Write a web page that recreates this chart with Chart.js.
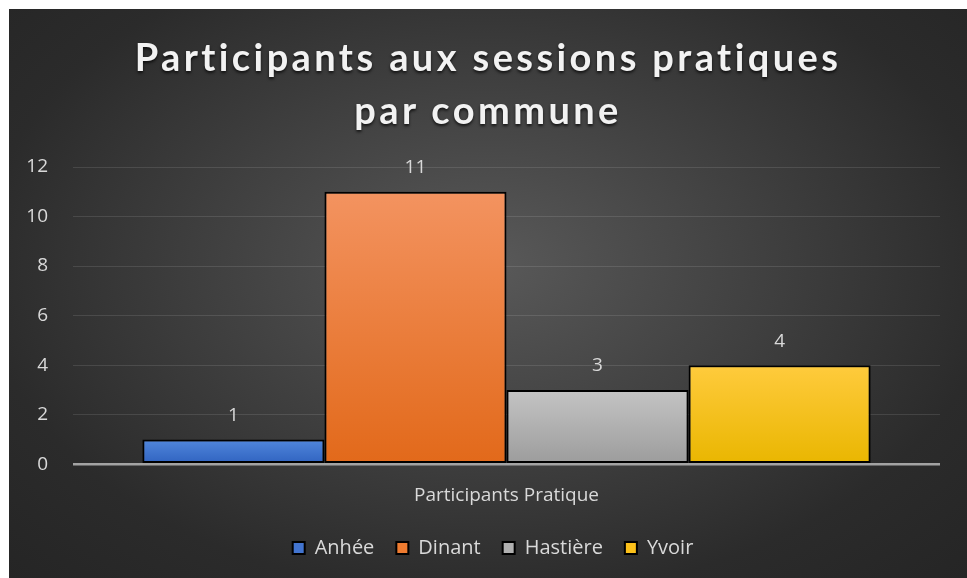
<!DOCTYPE html>
<html>
<head>
<meta charset="utf-8">
<script src="https://cdn.jsdelivr.net/npm/chart.js@4.4.1/dist/chart.umd.min.js"></script>
<style>
    html, body { margin: 0; padding: 0; background: #fff; }
    body { width: 967px; height: 578px; position: relative; overflow: hidden; }
    .chart-box {
        position: absolute; left: 9px; top: 9px; width: 958px; height: 569px;
        background: radial-gradient(ellipse farthest-corner at 50% 45%, #595959 0%, #2b2b2b 75%, #252525 100%);
    }
    .chart-title {
        position: absolute; left: 0; top: 21px; width: 100%;
        text-align: center; color: #f2f2f2;
        font: bold 38px 'Lato', sans-serif; line-height: 53px;
        letter-spacing: 3.4px;
        text-shadow: 0 2px 3px rgba(0, 0, 0, 0.7);
    }
    canvas { position: absolute; left: 0; top: 0; }
</style>
</head>
<body>
<div class="chart-box">
    <canvas id="participantsChart" width="958" height="569"></canvas>
    <div class="chart-title">Participants aux sessions pratiques<br>par commune</div>
</div>
<script>
// ============== DATA ==============
const categories = ['Participants Pratique'];
const communes = ['Anhée', 'Dinant', 'Hastière', 'Yvoir'];
const participants = [1, 11, 3, 4];
const yTicks = [0, 2, 4, 6, 8, 10, 12];

// top / bottom colours of each bar gradient
const topColors = ['#5187dc', '#f39360', '#c4c4c4', '#ffcb3d'];
const bottomColors = ['#2f62bf', '#e2691a', '#9c9c9c', '#e9b600'];
const legendColors = ['#4274cf', '#ee7b30', '#b0b0b0', '#fbc01a'];

const textColor = '#d9d9d9';
const uiFont = "'Open Sans', sans-serif";

// Gradient from the top of each bar down to the axis
function barGradient(index) {
    return function(context) {
        const chart = context.chart;
        if (!chart.chartArea || !chart.scales.y) return legendColors[index];
        const y = chart.scales.y;
        const g = chart.ctx.createLinearGradient(0, y.getPixelForValue(context.raw), 0, y.getPixelForValue(0));
        g.addColorStop(0, topColors[index]);
        g.addColorStop(1, bottomColors[index]);
        return g;
    };
}

// Values written above each bar, and the legend nudged right a little
const valueLabels = {
    id: 'valueLabels',
    afterLayout(chart) {
        if (chart.legend) chart.legend.left += 37;
    },
    afterDatasetsDraw(chart) {
        const ctx = chart.ctx;
        ctx.save();
        ctx.font = `19px ${uiFont}`;
        ctx.fillStyle = textColor;
        ctx.textAlign = 'center';
        ctx.textBaseline = 'middle';
        chart.data.datasets.forEach((ds, i) => {
            const meta = chart.getDatasetMeta(i);
            meta.data.forEach((bar, j) => {
                ctx.fillText(String(ds.data[j]), bar.x, bar.y - 24);
            });
        });
        ctx.restore();
    }
};

const datasets = communes.map((name, i) => ({
    label: name,
    data: [participants[i]],
    backgroundColor: barGradient(i),
    borderColor: '#000',
    borderWidth: 2,
    borderSkipped: false
}));

new Chart(document.getElementById('participantsChart').getContext('2d'), {
    type: 'bar',
    data: { labels: categories, datasets: datasets },
    options: {
        responsive: false,
        animation: false,
        layout: { padding: { top: 158, left: 0, right: 27, bottom: 10 } },
        datasets: { bar: { categoryPercentage: 0.84, barPercentage: 1 } },
        plugins: {
            title: { display: false },
            tooltip: { enabled: false },
            legend: {
                position: 'bottom',
                labels: {
                    color: textColor,
                    font: { family: uiFont, size: 20 },
                    boxWidth: 12,
                    boxHeight: 12,
                    padding: 22,
                    generateLabels: function(chart) {
                        return chart.data.datasets.map((ds, i) => ({
                            text: ds.label,
                            fillStyle: legendColors[i],
                            strokeStyle: '#000',
                            lineWidth: 2,
                            fontColor: textColor,
                            datasetIndex: i,
                            hidden: false
                        }));
                    }
                }
            }
        },
        scales: {
            x: {
                afterFit: function(scale) { scale.height = scale.height - 11; },
                grid: { display: false, drawTicks: false },
                border: { display: false },
                ticks: { color: textColor, font: { family: uiFont, size: 19 }, padding: 20 }
            },
            y: {
                min: 0,
                max: 12,
                afterFit: function(scale) { scale.width = 64; },
                afterBuildTicks: function(scale) { scale.ticks = yTicks.map(v => ({ value: v })); },
                border: { display: false },
                grid: {
                    drawTicks: false,
                    color: c => c.tick && c.tick.value === 0 ? '#a3a3a3' : 'rgba(255, 255, 255, 0.11)',
                    lineWidth: c => c.tick && c.tick.value === 0 ? 2.5 : 1
                },
                ticks: { color: textColor, font: { family: uiFont, size: 19 }, padding: 25 }
            }
        }
    },
    plugins: [valueLabels]
});
</script>
</body>
</html>
